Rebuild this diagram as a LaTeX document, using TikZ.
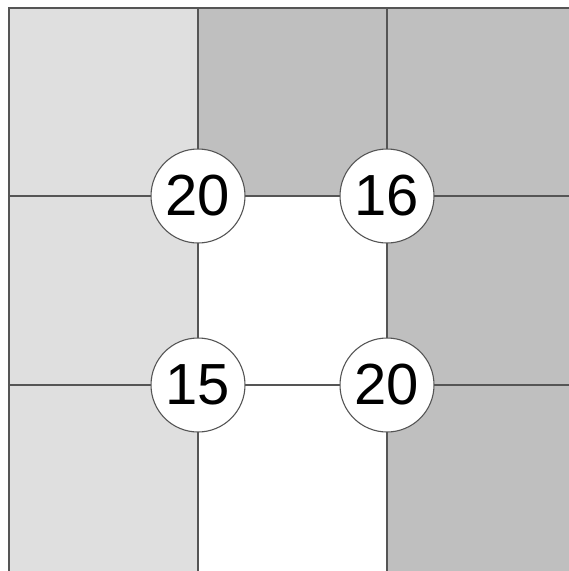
\documentclass[tikz,border=0pt]{standalone}
\usepackage{fontspec}
\setmainfont{Liberation Sans}
\definecolor{lightc}{HTML}{DFDFDF}
\definecolor{darkc}{HTML}{BFBFBF}
\definecolor{edge}{HTML}{555555}
\tikzset{
  cellline/.style={draw=edge, line width=1.3pt},
  num/.style={circle, draw=edge, fill=white, line width=1.1pt, minimum size=94pt, inner sep=0pt, font=\fontsize{58}{58}\selectfont}
}
\begin{document}
\begin{tikzpicture}[x=1pt,y=-1pt]
\useasboundingbox (0,0) rectangle (569,571);
% fills
\fill[lightc] (9,8) rectangle (198,571);
\fill[darkc] (198,8) rectangle (387,196);
\fill[darkc] (387,8) rectangle (569,571);
% lines
\draw[cellline] (9,571) -- (9,8) -- (569,8);
\draw[cellline] (198,8) -- (198,571);
\draw[cellline] (387,8) -- (387,571);
\draw[cellline] (9,196) -- (569,196);
\draw[cellline] (9,385) -- (569,385);
% circles
\node[num] (a) at (198,196) {20};
\node[num] (b) at (387,196) {16};
\node[num] (c) at (198,385) {15};
\node[num] (d) at (387,385) {20};
\end{tikzpicture}
\end{document}
